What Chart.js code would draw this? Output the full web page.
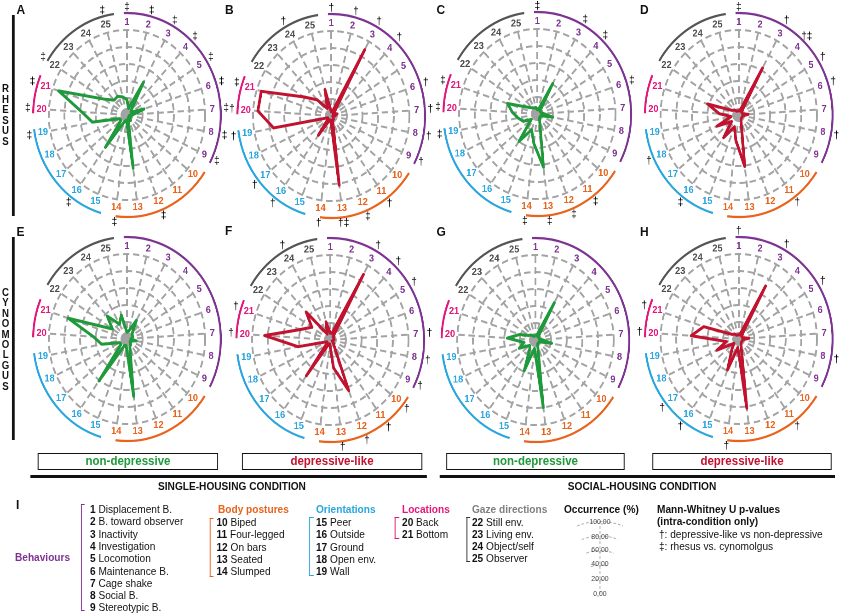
<!DOCTYPE html>
<html>
<head>
<meta charset="utf-8">
<script src="https://cdn.jsdelivr.net/npm/chart.js@4.4.1/dist/chart.umd.min.js"></script>
<style>
  body { margin: 0; background: #fff; width: 843px; height: 614px; overflow: hidden;
         font-family: "Liberation Sans", Arial, sans-serif; }
  #fig { position: absolute; left: 0; top: 0; width: 916px; height: 614px;
         transform: scaleX(0.92); transform-origin: 0 0; }
  .t { position: absolute; white-space: nowrap; line-height: 14px; font-size: 11px; color: #111; }
  canvas { position: absolute; }
  .box { position: absolute; border: 1.6px solid #111; box-sizing: border-box; height: 17px;
         font-weight: bold; font-size: 12.5px; text-align: center; line-height: 14px; }
  .brk { position: absolute; width: 4px; border: 1.6px solid; border-right: none; box-sizing: border-box; }
</style>
</head>
<body>
<div id="fig"></div>
<script>
// spoke numbers, 1..25
const spokes = ['1','2','3','4','5','6','7','8','9','10','11','12','13','14','15','16','17','18','19','20','21','22','23','24','25'];

// occurrence (%) per spoke
const rhesusSingleNonDep = [18, 8, 44, 8, 6, 23, 8, 3, 5, 3, 8, 4, 63, 6, 8, 47, 10, 10, 45, 58, 92, 35, 24, 25, 22];
const rhesusSingleDep    = [5, 5, 89, 5, 3, 8, 5, 2, 3, 3, 5, 5, 82, 5, 5, 28, 5, 5, 75, 94, 94, 42, 26, 10, 32];
const rhesusSocialNonDep = [5, 5, 41, 5, 5, 5, 8, 20, 5, 5, 5, 8, 63, 35, 20, 40, 10, 20, 25, 32, 40, 15, 10, 8, 8];
const rhesusSocialDep    = [5, 5, 63, 5, 5, 5, 12, 5, 5, 5, 5, 8, 61, 30, 15, 33, 12, 31, 10, 25, 42, 10, 8, 5, 5];
const cynoSingleNonDep   = [8, 10, 25, 10, 8, 8, 5, 12, 5, 5, 8, 10, 68, 8, 8, 61, 10, 10, 33, 43, 79, 22, 37, 20, 29];
const cynoSingleDep      = [8, 8, 88, 5, 5, 5, 5, 3, 3, 5, 8, 64, 33, 5, 5, 52, 5, 5, 42, 84, 40, 28, 45, 8, 22];
const cynoSocialNonDep   = [5, 5, 50, 5, 5, 5, 8, 21, 5, 5, 5, 8, 80, 10, 39, 12, 10, 23, 15, 36, 21, 10, 8, 5, 5];
const cynoSocialDep      = [5, 5, 71, 5, 5, 5, 13, 5, 5, 5, 5, 8, 82, 10, 39, 15, 8, 31, 16, 61, 47, 10, 8, 5, 5];

// significance marks per spoke
const marksA = {1:'‡',2:'‡',3:'‡',4:'‡',5:'‡',6:'‡',7:'‡',8:'‡',9:'‡',12:'‡',14:'‡',16:'‡',19:'‡',20:'‡',21:'‡',22:'‡',25:'‡'};
const marksB = {1:'†',2:'†',3:'†',4:'†',6:'†',7:'†',8:'†',9:'†',11:'†',12:'‡',13:'†‡',14:'†',16:'†',17:'†',19:'†',20:'†',21:'‡',24:'†'};
const marksC = {1:'‡',3:'‡',4:'‡',6:'‡',11:'‡',12:'‡',13:'‡',14:'‡',19:'‡',20:'‡',21:'‡'};
const marksD = {1:'‡',3:'†',4:'†‡',5:'†',6:'†',8:'†',11:'†',16:'‡',18:'†'};
const marksE = {};
const marksF = {3:'†',4:'†',5:'†',7:'†',8:'†',9:'†',10:'†',11:'†',12:'†',13:'†',20:'†',21:'†',24:'†'};
const marksG = {};
const marksH = {1:'†',3:'†',5:'†',8:'†',11:'†',14:'†',16:'†',17:'†',20:'†',21:'†'};

// legend names
const behaviours = ['Displacement B.','B. toward observer','Inactivity','Investigation','Locomotion','Maintenance B.','Cage shake','Social B.','Stereotypic B.'];
const postures = ['Biped','Four-legged','On bars','Seated','Slumped'];
const orientations = ['Peer','Outside','Ground','Open env.','Wall'];
const locations = ['Back','Bottom'];
const gazes = ['Still env.','Living env.','Object/self','Observer'];
const scaleTicks = ['100,00','80,00','60,00','40,00','20,00','0,00'];

const PURPLE = '#7d3391', ORANGE = '#e8631c', BLUE = '#29a6de', PINK = '#e3177b', GREY = '#4d4d4d';
const GREEN = '#1f9a3a', RED = '#c1122f';
const SX = 0.92;
const fig = document.getElementById('fig');

function labelColor(i) {
  if (i < 9) return PURPLE;
  if (i < 14) return ORANGE;
  if (i < 19) return BLUE;
  if (i < 21) return PINK;
  return GREY;
}
// group arcs, degrees clockwise from top
const arcs = [[-2, 118, PURPLE], [124, 187, ORANGE], [196, 262, BLUE], [271, 293, PINK], [302, 352, '#555']];

const decor = {
  id: 'decor',
  beforeDatasetsDraw(chart) {
    const s = chart.scales.r, ctx = chart.ctx;
    ctx.save();
    ctx.fillStyle = '#a3a3a3';
    ctx.beginPath();
    ctx.arc(s.xCenter, s.yCenter, 5, 0, Math.PI * 2);
    ctx.fill();
    ctx.restore();
  },
  afterDraw(chart, args, opts) {
    const s = chart.scales.r, ctx = chart.ctx, R = s.drawingArea;
    ctx.save();
    arcs.forEach(([a, b, c]) => {
      ctx.beginPath();
      ctx.strokeStyle = c;
      ctx.lineWidth = 2.2;
      ctx.arc(s.xCenter, s.yCenter, R + 17, (a - 90) * Math.PI / 180, (b - 90) * Math.PI / 180);
      ctx.stroke();
    });
    ctx.textAlign = 'center';
    ctx.textBaseline = 'middle';
    ctx.font = 'bold 10px "Liberation Sans", Arial, sans-serif';
    spokes.forEach((lab, i) => {
      const p = s.getPointPosition(i, R + 8);
      ctx.fillStyle = labelColor(i);
      ctx.fillText(lab, p.x, p.y);
    });
    ctx.font = '11px "Liberation Sans", Arial, sans-serif';
    ctx.fillStyle = '#000';
    Object.keys(opts.marks).forEach(k => {
      const p = s.getPointPosition(k - 1, R + 23);
      ctx.fillText(opts.marks[k], p.x, p.y);
    });
    ctx.restore();
  }
};

function radar(cx, cy, values, color, marks) {
  const c = document.createElement('canvas');
  c.width = 240; c.height = 240;
  c.style.left = (cx / SX - 120) + 'px';
  c.style.top = (cy - 120) + 'px';
  c.style.width = '240px'; c.style.height = '240px';
  fig.appendChild(c);
  new Chart(c, {
    type: 'radar',
    data: {
      labels: spokes,
      datasets: [{ data: values, borderColor: color, borderWidth: 3, pointRadius: 0,
                   fill: false, tension: 0, borderJoinStyle: 'round' }]
    },
    options: {
      responsive: false, animation: false, devicePixelRatio: 2,
      layout: { padding: 35 },
      plugins: { legend: { display: false }, tooltip: { enabled: false }, decor: { marks } },
      scales: {
        r: {
          min: 0, max: 100,
          ticks: { display: false, stepSize: 20 },
          pointLabels: { display: false },
          grid: { circular: true, color: '#a3a3a3', lineWidth: 2, borderDash: [7, 4] },
          border: { dash: [7, 4] },
          angleLines: { color: '#a3a3a3', lineWidth: 2, borderDash: [7, 4] }
        }
      }
    },
    plugins: [decor]
  });
}

radar(126.5, 115, rhesusSingleNonDep, GREEN, marksA);
radar(331, 116, rhesusSingleDep, RED, marksB);
radar(537, 114, rhesusSocialNonDep, GREEN, marksC);
radar(739, 115, rhesusSocialDep, RED, marksD);
radar(127, 339, cynoSingleNonDep, GREEN, marksE);
radar(330, 340, cynoSingleDep, RED, marksF);
radar(535, 340, cynoSocialNonDep, GREEN, marksG);
radar(739, 339, cynoSocialDep, RED, marksH);

// text helper: x in picture px, y = vertical centre
function put(x, y, html, css) {
  const d = document.createElement('div');
  d.className = 't';
  d.style.left = (x / SX) + 'px';
  d.style.top = (y - 7) + 'px';
  d.innerHTML = html;
  if (css) d.style.cssText += css;
  fig.appendChild(d);
  return d;
}
function rect(x1, y1, x2, y2, css) {
  const d = document.createElement('div');
  d.style.cssText = 'position:absolute;left:' + (x1 / SX) + 'px;top:' + y1 + 'px;width:' +
    ((x2 - x1) / SX) + 'px;height:' + (y2 - y1) + 'px;' + css;
  fig.appendChild(d);
  return d;
}

// panel letters
[['A', 16.5, 10], ['B', 225, 10], ['C', 436.5, 10], ['D', 640, 10],
 ['E', 16.5, 232], ['F', 225, 231], ['G', 436.5, 232], ['H', 640, 232]].forEach(([l, x, y]) =>
  put(x, y, l, 'font-weight:bold;font-size:13px;'));

// side bars and species names
rect(12, 15, 14.5, 216, 'background:#111;');
rect(12, 237, 14.5, 440, 'background:#111;');
put(1, 115, 'R<br>H<br>E<br>S<br>U<br>S', 'font-weight:bold;font-size:10.5px;line-height:10.5px;top:83px;text-align:center;width:10px;');
put(1, 339, 'C<br>Y<br>N<br>O<br>M<br>O<br>L<br>G<br>U<br>S', 'font-weight:bold;font-size:10.5px;line-height:10.4px;top:287px;text-align:center;width:10px;');

// condition boxes
[[38, 218, 'non-depressive', GREEN], [242, 422, 'depressive-like', RED],
 [446, 625, 'non-depressive', GREEN], [652, 832, 'depressive-like', RED]].forEach(([a, b, txt, c]) => {
  const d = rect(a, 453, b, 470, '');
  d.className = 'box';
  d.style.color = c;
  d.textContent = txt;
});
rect(30, 475, 427, 477.5, 'background:#111;');
rect(440, 475, 835, 477.5, 'background:#111;');
put(232, 485.5, 'SINGLE-HOUSING CONDITION', 'font-weight:bold;transform:translateX(-50%);');
put(642, 485.5, 'SOCIAL-HOUSING CONDITION', 'font-weight:bold;transform:translateX(-50%);');

// legend
put(16, 505, 'I', 'font-weight:bold;font-size:13px;');
function bracket(x, y1, y2, c) {
  const d = rect(x, y1, x + 4, y2, 'border-color:' + c + ';');
  d.className = 'brk';
}
function list(x, y0, first, names) {
  names.forEach((n, k) => put(x, y0 + k * 12.3, '<b>' + (first + k) + '</b> ' + n));
}
put(15, 557, 'Behaviours', 'font-weight:bold;color:' + PURPLE + ';');
bracket(81, 504, 611, PURPLE);
list(90, 509, 1, behaviours);
put(218, 509, 'Body postures', 'font-weight:bold;color:' + ORANGE + ';');
bracket(209.5, 518, 577, ORANGE);
list(216.5, 522, 10, postures);
put(316, 509, 'Orientations', 'font-weight:bold;color:' + BLUE + ';');
bracket(309.5, 517, 576, BLUE);
list(316, 522, 15, orientations);
put(402, 509, 'Locations', 'font-weight:bold;color:' + PINK + ';');
bracket(395, 517, 539, PINK);
list(402, 522, 20, locations);
put(472, 509, 'Gaze directions', 'font-weight:bold;color:#7f7f7f;');
bracket(466.5, 517, 562, '#333');
list(472, 521.5, 22, gazes);
put(564, 509, 'Occurrence (%)', 'font-weight:bold;');
put(657, 509, 'Mann-Whitney U p-values', 'font-weight:bold;');
put(657, 521, '(intra-condition only)', 'font-weight:bold;');
put(659, 533.5, '†: depressive-like vs non-depressive');
put(659, 546, '‡: rhesus vs. cynomolgus');

// small occurrence scale
const sc = document.createElement('canvas');
sc.width = 160; sc.height = 200;
sc.style.left = (575 / SX) + 'px'; sc.style.top = '512px';
sc.style.width = '80px'; sc.style.height = '100px';
fig.appendChild(sc);
const g = sc.getContext('2d');
g.scale(2, 2);
g.strokeStyle = '#b0b0b0'; g.lineWidth = 1; g.setLineDash([3, 2]);
const ox = (600 - 575) / SX + 0, oy = 594 - 512;
for (let k = 1; k <= 5; k++) {
  const r = k * 14.5;
  g.beginPath();
  g.arc(ox, oy, r, -Math.PI / 2 - 0.35, -Math.PI / 2 + 0.35);
  g.stroke();
}
g.beginPath(); g.moveTo(ox, oy); g.lineTo(ox, oy - 74); g.stroke();
scaleTicks.forEach((t, k) => {
  const y = [521.7, 536.7, 549.5, 564.3, 578.5, 594][k];
  put(600, y, t, 'font-size:7.5px;color:#444;transform:translateX(-50%);');
});
</script>
</body>
</html>
